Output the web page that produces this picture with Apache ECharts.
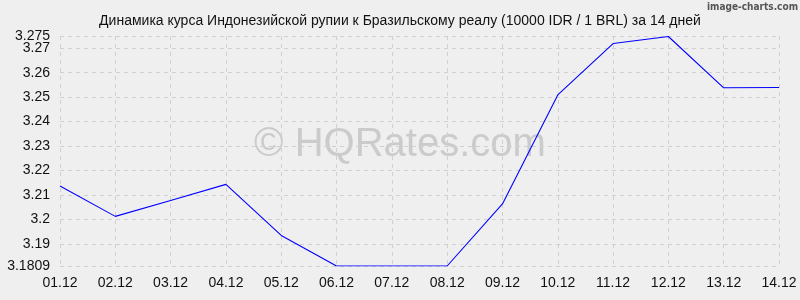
<!DOCTYPE html>
<html><head><meta charset="utf-8">
<script src="https://cdn.jsdelivr.net/npm/echarts@6/dist/echarts.min.js"></script>
<style>html,body{margin:0;padding:0;background:#efefef;}#c{width:800px;height:300px;}</style>
</head><body><div id="c"></div>
<script>
const categories = ['01.12','02.12','03.12','04.12','05.12','06.12','07.12','08.12','09.12','10.12','11.12','12.12','13.12','14.12'];
const rates = [3.2136, 3.2012, 3.2077, 3.2143, 3.1934, 3.1809, 3.1809, 3.1809, 3.2063, 3.2509, 3.2719, 3.2748, 3.2538, 3.2539];
const yTicks = [3.1809, 3.19, 3.2, 3.21, 3.22, 3.23, 3.24, 3.25, 3.26, 3.27, 3.275];
const yTopTick = [3.275];
const yMin = 3.1809, yMax = 3.275;
const titleText = 'Динамика курса Индонезийской рупии к Бразильскому реалу (10000 IDR / 1 BRL) за 14 дней';

const labelStyle = {fontFamily: 'Liberation Sans, Arial', fontSize: 14, color: '#111'};
const chart = echarts.init(document.getElementById('c'), null, {renderer: 'canvas'});
chart.setOption({
  backgroundColor: '#efefef',
  animation: false,
  title: {
    text: titleText, left: 'center', top: 9,
    textStyle: {fontFamily: 'Liberation Sans, Arial', fontSize: 14, fontWeight: 'normal', color: '#111'}
  },
  graphic: [
    {type: 'text', right: 2, top: 2, style: {text: 'image-charts.com', fontFamily: 'DejaVu Sans Condensed', fontWeight: 'bold', fontSize: 10, fill: '#555'}},
    {type: 'text', left: 'center', top: 125, z: 0, style: {text: '© HQRates.com', fontFamily: 'Liberation Sans, Arial', fontSize: 40, fill: '#cbcbcb'}}
  ],
  grid: {left: 60, right: 21, top: 36, bottom: 34, containLabel: false},
  xAxis: {
    type: 'category', data: categories, boundaryGap: false,
    axisLine: {show: false}, axisTick: {show: false},
    axisLabel: Object.assign({margin: 10, interval: 0}, labelStyle),
    splitLine: {show: true, interval: 0, lineStyle: {color: '#d0d0d0', type: [4, 4], width: 1}}
  },
  yAxis: [{
    type: 'value', min: yMin, max: yMax,
    axisLine: {show: false},
    axisTick: {show: false, customValues: yTicks},
    axisLabel: Object.assign({margin: 10, customValues: yTicks.filter(v => v !== yMax),
      showMaxLabel: true, showMinLabel: true, hideOverlap: false, formatter: v => String(v)}, labelStyle),
    splitLine: {show: true, lineStyle: {color: '#d0d0d0', type: [4, 4], width: 1}}
  }, {
    type: 'value', min: yMin, max: yMax, position: 'left', offset: 0,
    axisLine: {show: false},
    axisTick: {show: false, customValues: yTopTick},
    axisLabel: Object.assign({margin: 10, customValues: yTopTick, showMaxLabel: true,
      formatter: v => String(v)}, labelStyle),
    splitLine: {show: false}
  }],
  series: [{
    type: 'line', data: rates, symbol: 'none', z: 5, yAxisIndex: 0,
    lineStyle: {color: '#0000ff', width: 1.1}
  }]
});
</script></body></html>
